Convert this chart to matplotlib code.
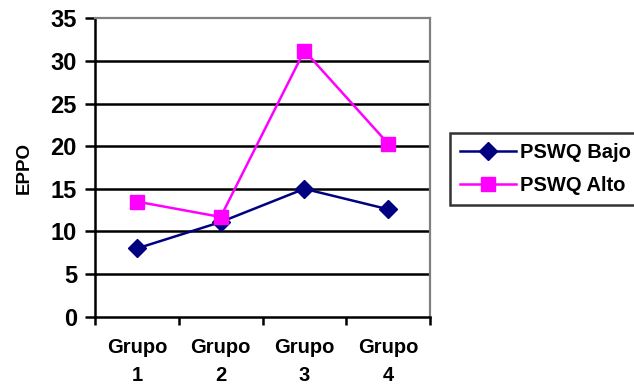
import matplotlib.pyplot as plt

plt.rcParams['font.family'] = ['Liberation Sans', 'DejaVu Sans']
plt.rcParams['font.weight'] = 'bold'

grupos = ["Grupo\n1", "Grupo\n2", "Grupo\n3", "Grupo\n4"]
pswq_bajo = [8.0, 11.1, 15.0, 12.6]
pswq_alto = [13.5, 11.7, 31.2, 20.3]

fig = plt.figure(figsize=(6.34, 3.85), dpi=100)
ax = fig.add_axes([95 / 634, 1 - 316.7 / 385, (430 - 95) / 634, (316.7 - 18.3) / 385])

x = list(range(len(grupos)))
ax.set_ylim(0, 35)
ax.set_xlim(-0.5, 3.5)
ax.set_yticks(range(0, 36, 5))
for v in range(5, 35, 5):
    ax.axhline(v, color='black', lw=1.8, zorder=1)

ax.plot(x, pswq_bajo, color='#000080', lw=1.8, marker='D', markersize=9.5,
        label='PSWQ Bajo', zorder=3, clip_on=False)
ax.plot(x, pswq_alto, color='#FF00FF', lw=1.8, marker='s', markersize=10.5,
        label='PSWQ Alto', zorder=3, clip_on=False)

ax.set_xticks([i + 0.5 for i in range(-1, 4)])
ax.set_xticklabels([])
ax.set_xticks(x, minor=True)
ax.set_xticklabels(grupos, minor=True, fontsize=14.5, fontweight='bold', linespacing=1.6)
ax.tick_params(axis='x', which='minor', length=0, pad=15)
ax.tick_params(axis='x', which='major', length=6, width=1.8, direction='out')
ax.tick_params(axis='y', length=7, width=1.8, labelsize=17, pad=6)
for lbl in ax.get_yticklabels():
    lbl.set_fontweight('bold')

for s in ['left', 'bottom']:
    ax.spines[s].set_linewidth(1.8)
    ax.spines[s].set_color('black')
for s in ['top', 'right']:
    ax.spines[s].set_linewidth(1.6)
    ax.spines[s].set_color('#808080')

ax.set_ylabel('EPPO', fontsize=13.5, fontweight='bold', labelpad=13)

leg = fig.legend(loc='upper left', bbox_to_anchor=(450 / 634, 1 - 133 / 385),
                 fontsize=14.5, frameon=True, fancybox=False, edgecolor='black',
                 handlelength=2.8, borderpad=0.5, labelspacing=0.7, handletextpad=0.2,
                 borderaxespad=0)
leg.get_frame().set_linewidth(1.8)
for t in leg.get_texts():
    t.set_fontweight('bold')

fig.savefig('out.png', dpi=100)
